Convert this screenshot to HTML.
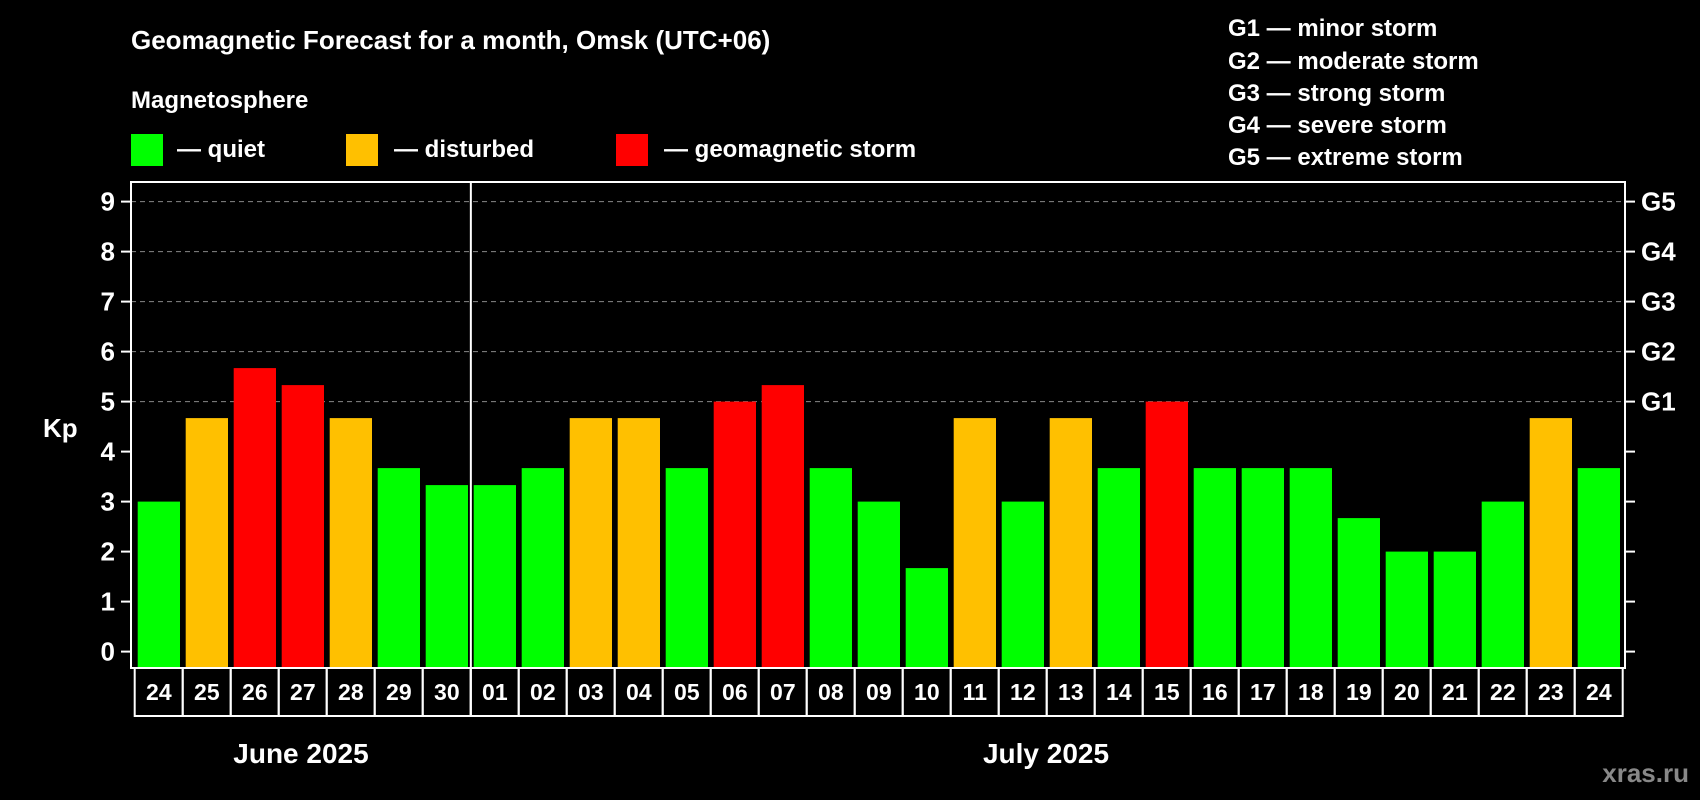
<!DOCTYPE html>
<html><head><meta charset="utf-8"><style>
html,body{margin:0;padding:0;background:#000;}
svg{display:block;font-family:"Liberation Sans",Arial,sans-serif;font-weight:bold;}
</style></head><body>
<svg id="chart" width="1700" height="800" viewBox="0 0 1700 800" xmlns="http://www.w3.org/2000/svg">
<rect width="1700" height="800" fill="#000"/>
<text x="131" y="49" fill="#fff" font-size="26">Geomagnetic Forecast for a month, Omsk (UTC+06)</text>
<text x="131" y="108" fill="#fff" font-size="24">Magnetosphere</text>
<g><rect x="131" y="134" width="32" height="32" fill="#00ff00"/><text x="177" y="157" fill="#fff" font-size="24">— quiet</text></g>
<g><rect x="346" y="134" width="32" height="32" fill="#ffc000"/><text x="394" y="157" fill="#fff" font-size="24">— disturbed</text></g>
<g><rect x="616" y="134" width="32" height="32" fill="#ff0000"/><text x="664" y="157" fill="#fff" font-size="24">— geomagnetic storm</text></g>
<g fill="#fff" font-size="24">
<text x="1228" y="36">G1 — minor storm</text>
<text x="1228" y="69">G2 — moderate storm</text>
<text x="1228" y="101">G3 — strong storm</text>
<text x="1228" y="133">G4 — severe storm</text>
<text x="1228" y="165">G5 — extreme storm</text>
</g>
<text x="43" y="437" fill="#fff" font-size="26">Kp</text>
<text x="301" y="763" fill="#fff" font-size="28" text-anchor="middle">June 2025</text>
<text x="1046" y="763" fill="#fff" font-size="28" text-anchor="middle">July 2025</text>
<text x="1689" y="782" fill="#888" font-size="26" text-anchor="end">xras.ru</text>
<g id="plot"></g>
</svg>
<script>
const days = ["24","25","26","27","28","29","30","01","02","03","04","05","06","07","08","09","10","11","12","13","14","15","16","17","18","19","20","21","22","23","24"];
const kpValues = [3,4.67,5.67,5.33,4.67,3.67,3.33,3.33,3.67,4.67,4.67,3.67,5,5.33,3.67,3,1.67,4.67,3,4.67,3.67,5,3.67,3.67,3.67,2.67,2,2,3,4.67,3.67];
const yTicks = [0,1,2,3,4,5,6,7,8,9];
const gLabels = ["G1","G2","G3","G4","G5"];
const gLevels = [5,6,7,8,9];
const NS="http://www.w3.org/2000/svg";
const g=document.getElementById('plot');
const L=131,R=1625,T=182,B=668;
const y=v=>651.6-v*50;
const x0=137.7,pitch=(1620-137.7-42.3)/(days.length-1),bw=42.3;
const x=i=>x0+i*pitch;
function mk(t,a){const e=document.createElementNS(NS,t);for(const k in a)e.setAttribute(k,a[k]);g.appendChild(e);return e;}
gLevels.forEach((v,i)=>{
 const l=mk('line',{x1:L,x2:R,y1:y(v),y2:y(v),stroke:'#888','stroke-dasharray':'5,4','stroke-width':1});
 
 
 const t=mk('text',{x:1641,y:y(v)+9,fill:'#fff','font-size':26});
 t.textContent=gLabels[i];
 
 
});
yTicks.forEach(v=>{
 const a=mk('line',{x1:L-10,x2:L,y1:y(v),y2:y(v),stroke:'#fff','stroke-width':2});
 
 
 const b=mk('line',{x1:R,x2:R+10,y1:y(v),y2:y(v),stroke:'#fff','stroke-width':2});
 
 
 const t=mk('text',{x:115,y:y(v)+9,fill:'#fff','font-size':26,'text-anchor':'end'});
 t.textContent=v;
 
 
});
kpValues.forEach((v,i)=>{
 const c=v>=5?'#ff0000':(v>=4?'#ffc000':'#00ff00');
 const r=mk('rect',{x:x(i),y:y(v),width:bw,height:B-y(v),fill:c});
 
 
 const bx=mk('rect',{x:x(i)-3,y:B,width:pitch,height:48,fill:'none',stroke:'#fff','stroke-width':2});
 
 
 const t=mk('text',{x:x(i)+bw/2,y:B+32,fill:'#fff','font-size':23,'text-anchor':'middle'});
 t.textContent=days[i];
 
 
});
const f=mk('rect',{x:L,y:T,width:R-L,height:B-T,fill:'none',stroke:'#fff','stroke-width':2});


const sx=(x(6)+bw+x(7))/2;
const sep=mk('line',{x1:sx,x2:sx,y1:T,y2:B+48,stroke:'#fff','stroke-width':2});


</script>
</body></html>
